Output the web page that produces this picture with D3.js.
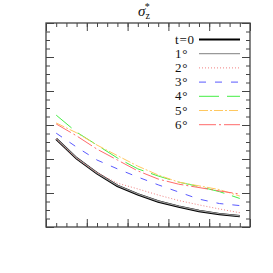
<!DOCTYPE html>
<html>
<head>
<meta charset="utf-8">
<script src="https://cdn.jsdelivr.net/npm/d3@7"></script>
<style>
  body { margin: 0; background: #fff; }
  text { font-family: "Liberation Serif", "DejaVu Serif", serif; fill: #111; }
</style>
</head>
<body>
<script>
// radius grid (x) and the sigma_z curves for each inclination
const xs = [0.25, 0.75, 1.25, 1.75, 2.25, 2.75, 3.25, 3.75, 4.25, 4.75];
const incl0 = [2.59, 2.02, 1.58, 1.21, 0.96, 0.75, 0.60, 0.47, 0.38, 0.32];
const incl1 = [2.60, 2.03, 1.59, 1.22, 0.97, 0.76, 0.61, 0.48, 0.39, 0.33];
const incl2 = [2.59, 2.02, 1.60, 1.29, 1.12, 0.94, 0.78, 0.65, 0.53, 0.42];
const incl3 = [2.76, 2.35, 1.97, 1.71, 1.47, 1.24, 1.03, 0.82, 0.69, 0.63];
const incl4 = [3.29, 2.79, 2.41, 2.03, 1.71, 1.50, 1.32, 1.19, 1.04, 0.84];
const incl5 = [3.06, 2.77, 2.41, 2.10, 1.79, 1.53, 1.32, 1.21, 1.10, 0.91];
const incl6 = [3.03, 2.68, 2.29, 1.97, 1.65, 1.41, 1.26, 1.16, 1.06, 0.97];
const labels = ["t=0", "1°", "2°", "3°", "4°", "5°", "6°"];

const series = [
  { label: labels[0], values: incl0, color: "#000", width: 2.4, dash: null },
  { label: labels[1], values: incl1, color: "#999", width: 1.2, dash: null },
  { label: labels[2], values: incl2, color: "#f08080", width: 1, dash: "1,2" },
  { label: labels[3], values: incl3, color: "#5a5aff", width: 1, dash: "7,9" },
  { label: labels[4], values: incl4, color: "#44ee44", width: 1, dash: "20,8" },
  { label: labels[5], values: incl5, color: "#ffc860", width: 1, dash: "9,2,2,2" },
  { label: labels[6], values: incl6, color: "#ff6a6a", width: 1, dash: "17,3,2,3" }
];

const W = 273, H = 273;
const mLeft = 46, mRight = 250, mTop = 23, mBottom = 227;

const svg = d3.select("body").append("svg").attr("width", W).attr("height", H);

const x = d3.scaleLinear().domain([0, 5]).range([mLeft, mRight]);
const y = d3.scaleLinear().domain([0, 6]).range([mBottom, mTop]);

// ticks on all four sides, pointing inward, no labels
function ticks(axisFn, scale, step, size, transform) {
  const vals = d3.range(scale.domain()[0], scale.domain()[1] + 1e-9, step);
  svg.append("g")
    .attr("transform", transform)
    .call(axisFn(scale).tickValues(vals).tickSize(size).tickFormat(""))
    .call(g => g.select(".domain").remove())
    .call(g => g.selectAll("line").attr("stroke", "#444").attr("stroke-width", 1));
}
ticks(d3.axisBottom, x, 0.25, -4, `translate(0,${mBottom})`);
ticks(d3.axisBottom, x, 1, -8, `translate(0,${mBottom})`);
ticks(d3.axisTop, x, 0.25, -4, `translate(0,${mTop})`);
ticks(d3.axisTop, x, 1, -8, `translate(0,${mTop})`);
ticks(d3.axisLeft, y, 0.25, -4, `translate(${mLeft},0)`);
ticks(d3.axisLeft, y, 1, -8, `translate(${mLeft},0)`);
ticks(d3.axisRight, y, 0.25, -4, `translate(${mRight},0)`);
ticks(d3.axisRight, y, 1, -8, `translate(${mRight},0)`);

svg.append("rect")
  .attr("x", mLeft).attr("y", mTop)
  .attr("width", mRight - mLeft).attr("height", mBottom - mTop)
  .attr("fill", "none").attr("stroke", "#444").attr("stroke-width", 1.3);

const line = d3.line().x((d, i) => x(xs[i])).y(d => y(d));

svg.selectAll(".curve")
  .data(series)
  .enter()
  .append("path")
  .attr("class", "curve")
  .attr("d", d => line(d.values))
  .attr("fill", "none")
  .attr("stroke", d => d.color)
  .attr("stroke-width", d => d.width)
  .attr("stroke-dasharray", d => d.dash);

// legend
const leg = svg.append("g");
series.forEach((s, i) => {
  const ly = 39.5 + i * 14.2;
  leg.append("text")
    .attr("x", 175).attr("y", ly + 4)
    .attr("font-size", 13)
    .attr("letter-spacing", 0.8)
    .text(s.label);
  leg.append("line")
    .attr("x1", 199).attr("x2", 240)
    .attr("y1", ly).attr("y2", ly)
    .attr("stroke", s.color)
    .attr("stroke-width", i === 0 ? 2 : s.width)
    .attr("stroke-dasharray", s.dash);
});

// title: sigma_z^*
const title = svg.append("text")
  .attr("x", 138).attr("y", 16)
  .attr("font-size", 15);
title.append("tspan").attr("font-style", "italic").text("σ");
title.append("tspan").attr("font-size", 10).attr("dy", 3).text("z");
title.append("tspan").attr("font-size", 10).attr("dx", -5).attr("dy", -9).text("*");
</script>
</body>
</html>
